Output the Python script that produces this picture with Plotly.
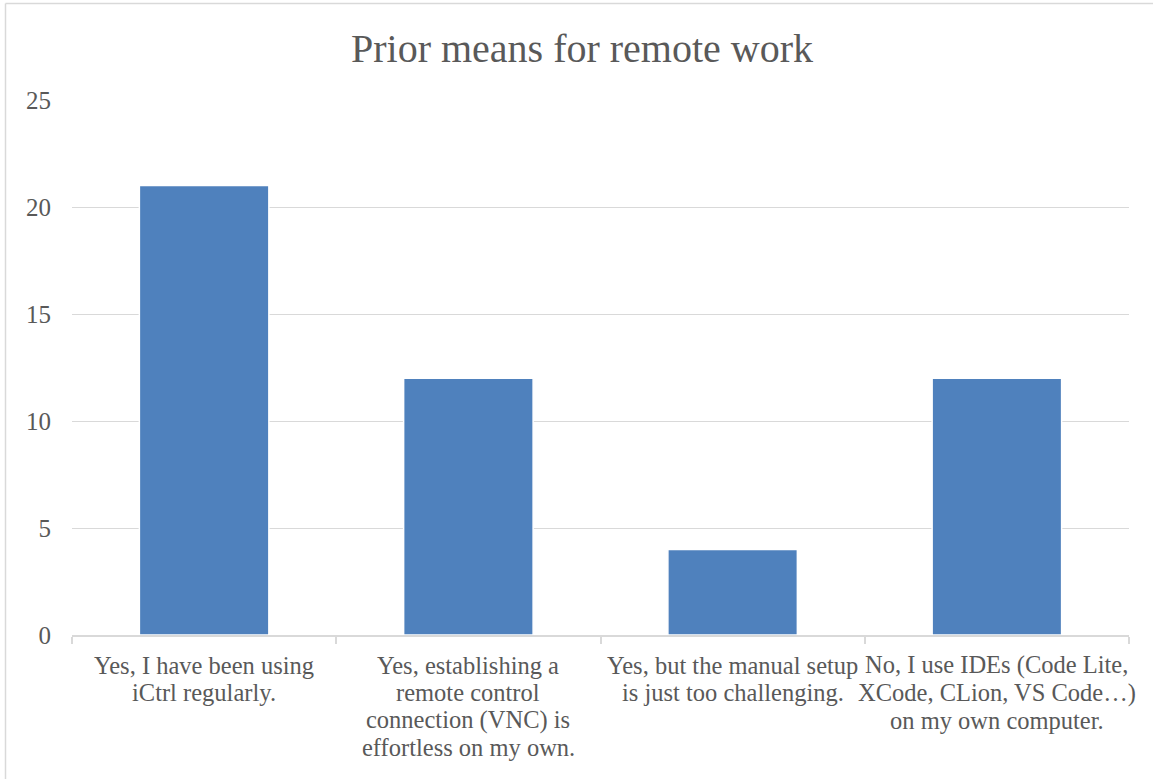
import plotly.graph_objects as go

# Survey answers and counts
categories = [
    "Yes, I have been using iCtrl regularly.",
    "Yes, establishing a remote control connection (VNC) is effortless on my own.",
    "Yes, but the manual setup is just too challenging.",
    "No, I use IDEs (Code Lite, XCode, CLion, VS Code…) on my own computer.",
]
label_lines = [
    ["Yes, I have been using", "iCtrl regularly."],
    ["Yes, establishing a", "remote control", "connection (VNC) is", "effortless on my own."],
    ["Yes, but the manual setup", "is just too challenging."],
    ["No, I use IDEs (Code Lite,", "XCode, CLion, VS Code…)", "on my own computer."],
]
counts = [21, 12, 4, 12]
y_ticks = [0, 5, 10, 15, 20, 25]

FONT = "Liberation Serif"
TEXT = "#595959"
GRID = "#D9D9D9"
BAR = "#4F81BD"

W, H = 1153, 779
ML, MR, MT, MB = 72, 24, 100, 144
PW, PH = W - ML - MR, H - MT - MB

fig = go.Figure(
    go.Bar(
        x=categories,
        y=counts,
        marker=dict(color=BAR, line=dict(color="white", width=1.5)),
        hoverinfo="x+y",
    )
)

# Multi-line category labels, placed under each category with tight line spacing
annotations = []
for cat, lines in zip(categories, label_lines):
    for i, line in enumerate(lines):
        annotations.append(
            dict(
                x=cat, y=0, xref="x", yref="y",
                text=line, showarrow=False,
                xanchor="center", yanchor="middle",
                yshift=-(30 + i * 27.5),
                font=dict(family=FONT, size=24.5, color=TEXT),
            )
        )

# Chart frame: left and top edges
fx0 = (5.5 - ML) / PW
fy1 = 1 + (MT - 3.5) / PH
fy0 = -(MB + 5) / PH
fx1 = 1 + (MR + 5) / PW
shapes = [
    dict(type="line", xref="paper", yref="paper", x0=fx0, x1=fx0, y0=fy0, y1=fy1,
         line=dict(color=GRID, width=1.5)),
    dict(type="line", xref="paper", yref="paper", x0=fx0, x1=fx1, y0=fy1, y1=fy1,
         line=dict(color=GRID, width=1.5)),
]

fig.update_layout(
    width=W, height=H,
    margin=dict(l=ML, r=MR, t=MT, b=MB, autoexpand=False),
    paper_bgcolor="white", plot_bgcolor="white",
    bargap=0.51,
    showlegend=False,
    title=dict(
        text="Prior means for remote work",
        x=582 / W, xref="container", xanchor="center",
        y=1 - 48 / H, yref="container", yanchor="middle",
        font=dict(family=FONT, size=40, color=TEXT),
    ),
    xaxis=dict(
        type="category",
        range=[-0.5, len(categories) - 0.5],
        autorange=False,
        showticklabels=False,
        showline=True, linecolor=GRID, linewidth=1.5,
        ticks="outside", tickson="boundaries", ticklen=7, tickcolor=GRID, tickwidth=1.5,
        showgrid=False,
    ),
    yaxis=dict(
        range=[0, 25],
        tickvals=y_ticks,
        ticktext=[str(v) for v in y_ticks],
        showgrid=True, gridcolor=GRID, gridwidth=1.2,
        zeroline=False, showline=False,
        ticks="", ticklabelstandoff=20,
        tickfont=dict(family=FONT, size=25, color=TEXT),
    ),
    annotations=annotations,
    shapes=shapes,
)

fig.write_html("out.html")
